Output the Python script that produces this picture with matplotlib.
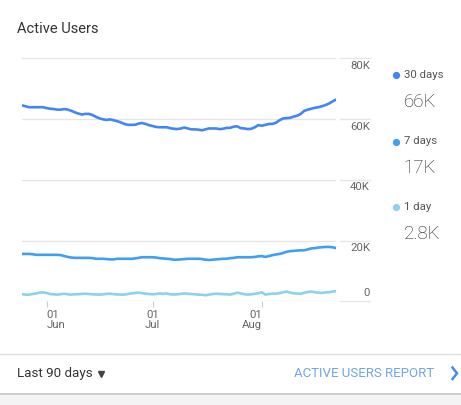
import numpy as np
import matplotlib
matplotlib.use("Agg")
import matplotlib.pyplot as plt
import matplotlib.transforms as mtransforms
from matplotlib.lines import Line2D
from matplotlib.patches import Rectangle

plt.rcParams['font.family'] = ['Roboto', 'DejaVu Sans']

# ---------------- data ----------------
start_date = np.datetime64('2019-05-25')
n_days = 90
dates = start_date + np.arange(n_days)

users_30d = [64.5, 64.2, 63.9, 63.9, 63.9, 63.9, 63.9, 63.6, 63.4, 63.3,
             63.1, 63.1, 63.3, 63.1, 62.7, 62.2, 61.8, 61.5, 61.7, 61.7,
             61.3, 60.7, 60.2, 59.9, 59.7, 59.9, 59.6, 59.3, 58.9, 58.4,
             58.1, 58.1, 58.1, 58.5, 58.7, 58.4, 58.0, 57.7, 57.4, 57.3,
             57.3, 57.3, 57.0, 56.8, 56.7, 56.9, 57.2, 56.9, 56.6, 56.6,
             56.5, 56.3, 56.6, 56.9, 56.9, 56.9, 56.7, 56.8, 57.1, 57.1,
             57.5, 57.6, 57.0, 56.9, 56.7, 56.8, 57.3, 58.0, 57.8, 58.1,
             58.4, 58.4, 58.8, 59.6, 60.2, 60.3, 60.4, 60.8, 61.1, 61.7,
             62.7, 63.1, 63.4, 63.7, 63.9, 64.2, 64.6, 65.1, 65.8, 66.4]

users_7d = [15.6, 15.6, 15.6, 15.5, 15.3, 15.3, 15.3, 15.3, 15.3, 15.3,
            15.3, 15.2, 14.9, 14.6, 14.4, 14.3, 14.3, 14.3, 14.3, 14.3,
            14.2, 14.0, 14.0, 14.0, 13.9, 13.8, 13.8, 14.0, 14.0, 14.0,
            14.0, 14.0, 14.1, 14.3, 14.5, 14.5, 14.5, 14.5, 14.4, 14.2,
            14.1, 14.0, 13.9, 13.7, 13.7, 13.8, 13.9, 14.0, 14.0, 14.0,
            14.0, 13.9, 13.7, 13.6, 13.7, 13.8, 13.9, 14.0, 14.0, 14.2,
            14.3, 14.5, 14.5, 14.5, 14.5, 14.5, 14.6, 14.8, 14.9, 14.6,
            14.9, 15.2, 15.4, 15.6, 15.9, 16.3, 16.5, 16.6, 16.7, 16.8,
            16.8, 17.1, 17.4, 17.5, 17.7, 17.8, 17.9, 17.9, 17.8, 17.5]

users_1d = [2.4, 2.15, 2.2, 2.4, 2.6, 2.85, 2.95, 2.7, 2.4, 2.3,
            2.2, 2.35, 2.5, 2.3, 2.2, 2.3, 2.35, 2.45, 2.5, 2.4,
            2.3, 2.25, 2.2, 2.3, 2.45, 2.5, 2.35, 2.25, 2.2, 2.2,
            2.4, 2.6, 2.75, 2.85, 2.7, 2.5, 2.4, 2.3, 2.4, 2.6,
            2.45, 2.6, 2.3, 2.25, 2.3, 2.45, 2.6, 2.5, 2.4, 2.3,
            2.2, 2.15, 2.0, 2.2, 2.4, 2.5, 2.45, 2.35, 2.3, 2.2,
            2.5, 2.85, 2.6, 2.35, 2.2, 2.3, 2.5, 2.65, 2.95, 2.2,
            2.4, 2.5, 2.5, 2.7, 2.95, 3.2, 2.9, 2.6, 2.55, 2.5,
            2.8, 3.05, 3.2, 3.0, 2.85, 2.75, 2.9, 3.0, 3.2, 3.35]

series_names = ['30 days', '7 days', '1 day']
series_totals = ['66K', '17K', '2.8K']
series_colors = ['#4285F4', '#3F9FF2', '#8DD1EE']

y_ticks = [0, 20000, 40000, 60000, 80000]
y_tick_labels = ['0', '20K', '40K', '60K', '80K']

x_tick_dates = [np.datetime64('2019-06-01'), np.datetime64('2019-07-01'), np.datetime64('2019-08-01')]
x_tick_labels = ['01\nJun', '01\nJul', '01\nAug']
x_tick_align = ['left', 'center', 'right']

title = 'Active Users'
range_label = 'Last 90 days'
link_label = 'ACTIVE USERS REPORT'

# ---------------- figure ----------------
W, H = 461, 405
fig = plt.figure(figsize=(W / 100, H / 100), dpi=100)
fig.patch.set_facecolor('white')

def fx(px):
    return px / W

def fy(py):
    return 1 - py / H

ax = fig.add_axes([fx(22), fy(301.3), (336 - 22) / W, (301.3 - 58.3) / H])
ax.set_facecolor('white')

grid_color = '#e6e6e6'
for vals, col in zip([users_30d, users_7d, users_1d], series_colors):
    ax.plot(dates, np.array(vals) * 1000, color=col, lw=1.9, solid_joinstyle='round',
            solid_capstyle='round', zorder=3)

ax.set_xlim(dates[0], dates[-1])
ax.set_ylim(0, 80000)
for s in ax.spines.values():
    s.set_visible(False)

ax.set_yticks(y_ticks)
ax.yaxis.grid(True, color=grid_color, lw=1)
ax.tick_params(axis='y', length=0, labelleft=False, labelright=False)
ax.set_axisbelow(True)

blend = mtransforms.blended_transform_factory(ax.transAxes, ax.transData)
x0 = (340 - 22) / 314
x1 = (370 - 22) / 314
for v, lab in zip(y_ticks, y_tick_labels):
    ax.plot([x0, x1], [v, v], transform=blend, color=grid_color, lw=1, clip_on=False)
    dy = 8.6 if v == 0 else -7.6
    ax.annotate(lab, xy=(x1, v), xycoords=blend, xytext=(0, dy), textcoords='offset pixels',
                ha='right', va='center', fontsize=8.2, color='#666666')

ax.set_xticks(x_tick_dates)
ax.set_xticklabels(x_tick_labels, fontsize=8.2, color='#666666', linespacing=1.05)
ax.tick_params(axis='x', length=4.3, width=0.8, color='#cccccc', pad=1.8)
for lbl, ha in zip(ax.get_xticklabels(), x_tick_align):
    lbl.set_horizontalalignment(ha)

# title
fig.text(fx(17), fy(29), title, fontsize=10.6, color='#333333', ha='left', va='center')

# legend on right
leg_y = [74.5, 141, 206.7]
big_y = [101.7, 167.5, 234]
for name, total, col, ly, by in zip(series_names, series_totals, series_colors, leg_y, big_y):
    fig.add_artist(Line2D([fx(396)], [fy(ly + 0.5)], marker='o', markersize=4.2,
                          color=col, transform=fig.transFigure))
    fig.text(fx(403.5), fy(ly), name, fontsize=8.2, color='#555555', ha='left', va='center')
    fig.text(fx(403.5), fy(by), total, fontsize=13.5, color='#222222', ha='left',
             va='center', fontweight='light')

# footer
fig.add_artist(Line2D([0, 1], [fy(354.3), fy(354.3)], color='#e0e0e0', lw=1,
                      transform=fig.transFigure))
fig.text(fx(17), fy(373), range_label, fontsize=9.6, color='#333333', ha='left', va='center')
fig.add_artist(Line2D([fx(100.5)], [fy(373.5)], marker='v', markersize=4.0, color='#444444',
                      transform=fig.transFigure))
fig.text(fx(434), fy(373.5), link_label, fontsize=9.5, color='#6FA6E6', ha='right', va='center')
fig.add_artist(Line2D([fx(452.5), fx(457), fx(452.5)], [fy(367.5), fy(373.3), fy(379)],
                      color='#4A8AF0', lw=1.8, transform=fig.transFigure,
                      solid_joinstyle='miter'))

fig.add_artist(Rectangle((0, 0), 1, fy(394), transform=fig.transFigure,
                         facecolor='#f4f4f4', edgecolor='none'))
fig.add_artist(Line2D([0, 1], [fy(393.5), fy(393.5)], color='#c4c4c4', lw=1.2,
                      transform=fig.transFigure))

fig.savefig('out.png', dpi=100, facecolor='white')
